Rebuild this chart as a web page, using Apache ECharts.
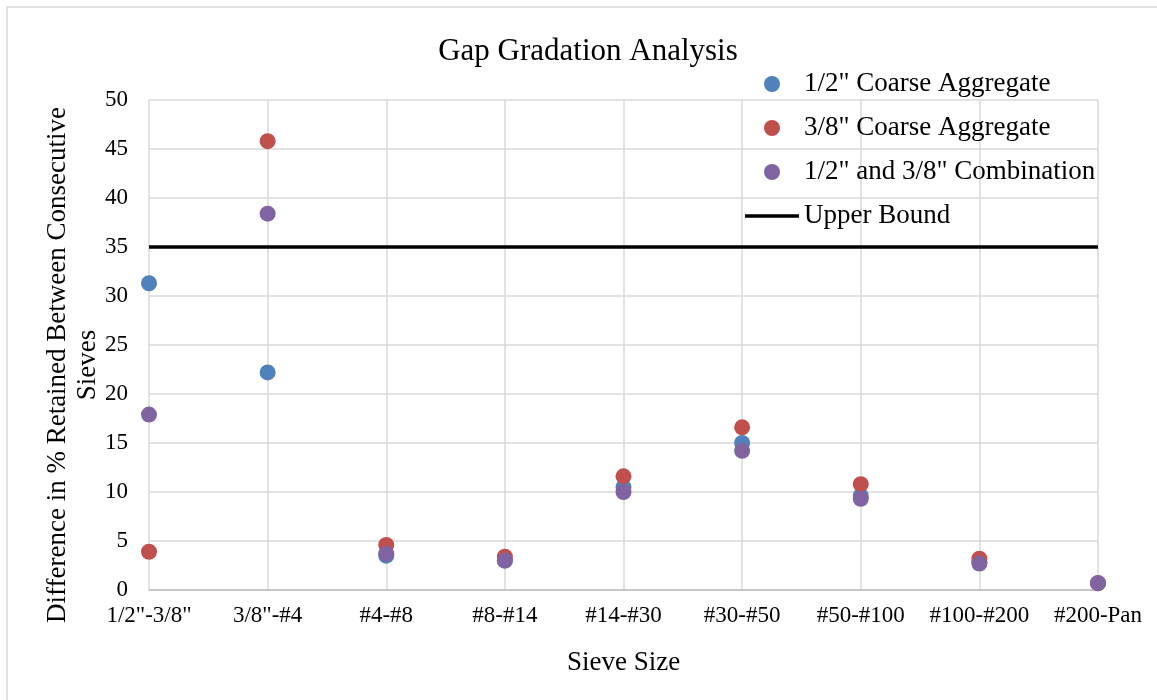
<!DOCTYPE html>
<html>
<head>
<meta charset="utf-8">
<script src="https://cdn.jsdelivr.net/npm/echarts@6/dist/echarts.min.js"></script>
<style>
html,body{margin:0;padding:0;background:#fff;}
#chart{width:1157px;height:700px;}
</style>
</head>
<body>
<div id="chart"></div>
<script>
const categories = ['1/2"-3/8"', '3/8"-#4', '#4-#8', '#8-#14', '#14-#30', '#30-#50', '#50-#100', '#100-#200', '#200-Pan'];
const halfInch = [31.3, 22.2, 3.5, 3.0, 10.5, 15.0, 9.6, 2.8, 0.7];
const threeEighth = [3.9, 45.8, 4.6, 3.4, 11.6, 16.6, 10.8, 3.2, 0.7];
const combination = [17.9, 38.4, 3.7, 3.0, 10.0, 14.2, 9.3, 2.7, 0.7];
const upperBound = [35, 35, 35, 35, 35, 35, 35, 35, 35];
const yTicks = { min: 0, max: 50, interval: 5 };

const FONT = '"Liberation Serif", "Times New Roman", serif';
const chart = echarts.init(document.getElementById('chart'));
chart.setOption({
  animation: false,
  backgroundColor: '#fff',
  textStyle: { fontFamily: FONT },
  title: {
    text: 'Gap Gradation Analysis',
    left: 583, top: 31, textAlign: 'center',
    textStyle: { fontFamily: FONT, fontSize: 31, fontWeight: 'normal', color: '#000' }
  },
  legend: {
    orient: 'vertical',
    left: 740, top: 64,
    itemWidth: 54, itemHeight: 16, itemGap: 14,
    textStyle: { fontFamily: FONT, fontSize: 27, color: '#000', lineHeight: 30 },
    data: [
      { name: '1/2" Coarse Aggregate', icon: 'circle' },
      { name: '3/8" Coarse Aggregate', icon: 'circle' },
      { name: '1/2" and 3/8" Combination', icon: 'circle' },
      { name: 'Upper Bound', icon: 'path://M0,0L54,0L54,3.5L0,3.5Z' }
    ]
  },
  graphic: [
    { type: 'rect', shape: { x: 7, y: 7, width: 1160, height: 710 }, style: { fill: 'none', stroke: '#d9d9d9', lineWidth: 1.5 }, z: -10 },
    { type: 'text', x: 73, y: 365, rotation: Math.PI / 2,
      style: { text: 'Difference in % Retained Between Consecutive\nSieves', fontFamily: FONT, fontSize: 27, lineHeight: 30, fill: '#000', align: 'center', verticalAlign: 'middle' } }
  ],
  grid: { left: 149, right: 59, top: 100, bottom: 110 },
  xAxis: {
    type: 'category', data: categories, boundaryGap: false,
    name: 'Sieve Size', nameLocation: 'middle', nameGap: 59,
    nameTextStyle: { fontFamily: FONT, fontSize: 27, color: '#000' },
    axisLine: { lineStyle: { color: '#bfbfbf', width: 1.5 } },
    axisTick: { show: false },
    axisLabel: { fontFamily: FONT, fontSize: 23, color: '#000', margin: 14, interval: 0 },
    splitLine: { show: true, lineStyle: { color: '#d9d9d9', width: 1.5 } }
  },
  yAxis: {
    type: 'value', min: yTicks.min, max: yTicks.max, interval: yTicks.interval,
    axisLine: { show: false }, axisTick: { show: false },
    axisLabel: { fontFamily: FONT, fontSize: 23, color: '#000', margin: 21 },
    splitLine: { lineStyle: { color: '#d9d9d9', width: 1.5 } }
  },
  series: [
    { name: '1/2" Coarse Aggregate', type: 'scatter', data: halfInch, symbolSize: 16, itemStyle: { color: '#4F81BD', opacity: 1 } },
    { name: '3/8" Coarse Aggregate', type: 'scatter', data: threeEighth, symbolSize: 16, itemStyle: { color: '#C0504D', opacity: 1 } },
    { name: '1/2" and 3/8" Combination', type: 'scatter', data: combination, symbolSize: 16, itemStyle: { color: '#8064A2', opacity: 1 } },
    { name: 'Upper Bound', type: 'line', data: upperBound, symbol: 'none', showSymbol: false, z: 1,
      lineStyle: { color: '#000', width: 3.5 }, itemStyle: { color: '#000' } }
  ]
});
</script>
</body>
</html>
